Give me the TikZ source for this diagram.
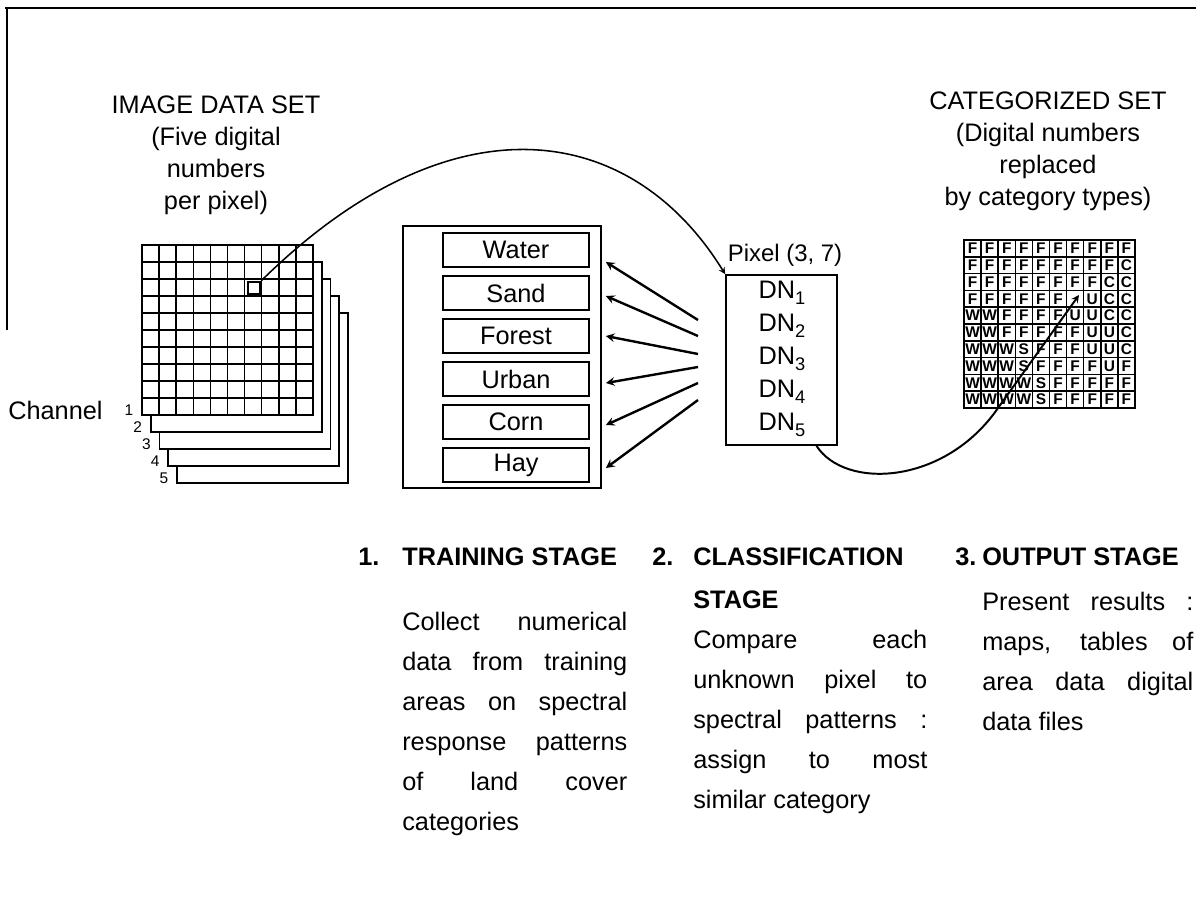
\documentclass[tikz,border=0pt]{standalone}
\usepackage{fontspec}
\setmainfont{Liberation Sans}
\usetikzlibrary{calc}
\newcommand{\dnsub}[1]{DN\raisebox{-0.45ex}{\fontsize{13}{13}\selectfont #1}}

\begin{document}
\begin{tikzpicture}[x=0.025cm, y=-0.025cm, >=stealth, node distance=1.075cm]
    \tikzstyle{heading} = [font=\fontsize{18}{22.8}\selectfont, align=center]
    \tikzstyle{classbox} = [draw, line width=1.2pt, minimum width=3.65cm, minimum height=0.85cm, inner sep=0pt, font=\fontsize{18}{22}\selectfont]
    \tikzstyle{stagehead} = [anchor=west, inner sep=0pt, font=\fontsize{18}{22}\selectfont\bfseries]
    \tikzstyle{stagetext} = [anchor=north west, inner sep=0pt, align=justify, font=\fontsize{18}{28.45}\selectfont]
    \tikzstyle{cellfont} = [inner sep=0pt, font=\fontsize{11}{11}\selectfont\bfseries]
    \tikzstyle{fan} = [->, line width=1.7pt]

    \useasboundingbox (0,0) rectangle (1196,907);

    % Frame
    \draw[line width=1.4pt] (5,8) -- (1196,8);
    \draw[line width=1pt] (7,8) -- (7,330);

    % Image data set (five channels)
    \foreach \k in {4,3,2,1}
        \draw[line width=1.2pt, fill=white] (142+8.7*\k,245+17*\k) rectangle +(171,170);
    \draw[line width=1.2pt, fill=white] (142,245) rectangle (313,415);
    \foreach \i in {1,...,9} {
        \draw[line width=1.1pt] (142+17.1*\i,245) -- (142+17.1*\i,415);
        \draw[line width=1.1pt] (142,245+17*\i) -- (313,245+17*\i);
    }
    \node[draw, line width=1.8pt, minimum size=0.3cm, inner sep=0pt] (cell) at (254,288) {};
    \foreach \n in {1,...,5}
        \node[font=\fontsize{11}{11}\selectfont] at (129+8.7*\n-8.7,393+17*\n) {\n};
    \node[heading] (imgtitle) at (216,155) {IMAGE DATA SET\\(Five digital\\numbers\\per pixel)};
    \node[heading, anchor=west, inner sep=0pt] (channel) at (8,410) {Channel};

    % Training stage
    \node[draw, line width=1.2pt, minimum width=4.95cm, minimum height=6.55cm] (train) at (502,357) {};
    \node[classbox] (water) at (516,250) {Water};
    \node[classbox] (sand) [below of=water] {Sand};
    \node[classbox] (forest) [below of=sand] {Forest};
    \node[classbox] (urban) [below of=forest] {Urban};
    \node[classbox] (corn) [below of=urban] {Corn};
    \node[classbox] (hay) [below of=corn] {Hay};

    % Pixel (3, 7)
    \node[draw, line width=1.2pt, minimum width=2.775cm, minimum height=4.25cm] (pix) at (781.5,360) {};
    \node[font=\fontsize{17}{20}\selectfont] (pixlabel) at (785,255) {Pixel (3, 7)};
    \node[heading] (dn1) at (782,293) {\dnsub{1}};
    \node[heading, node distance=0.825cm] (dn2) [below of=dn1] {\dnsub{2}};
    \node[heading, node distance=0.825cm] (dn3) [below of=dn2] {\dnsub{3}};
    \node[heading, node distance=0.825cm] (dn4) [below of=dn3] {\dnsub{4}};
    \node[heading, node distance=0.825cm] (dn5) [below of=dn4] {\dnsub{5}};

    % Categorized set
    \node[heading] (cattitle) at (1048,151) {CATEGORIZED SET\\(Digital numbers\\replaced\\by category types)};
    \draw[line width=1.4pt] (964,240) rectangle (1135,408);
    \foreach \i in {1,...,9} {
        \draw[line width=1.1pt] (964+17.1*\i,240) -- (964+17.1*\i,408);
        \draw[line width=1.1pt] (964,240+16.8*\i) -- (1135,240+16.8*\i);
    }
    \foreach \row/\cells in {1/{F,F,F,F,F,F,F,F,F,F}, 2/{F,F,F,F,F,F,F,F,F,C},
                             3/{F,F,F,F,F,F,F,F,C,C}, 4/{F,F,F,F,F,F,{},U,C,C},
                             5/{W,W,F,F,F,F,U,U,C,C}, 6/{W,W,F,F,F,F,F,U,U,C},
                             7/{W,W,W,S,F,F,F,U,U,C}, 8/{W,W,W,S,F,F,F,F,U,F},
                             9/{W,W,W,W,S,F,F,F,F,F}, 10/{W,W,W,W,S,F,F,F,F,F}}
        \foreach \c [count=\col] in \cells
            \node[cellfont] at (955.45+17.1*\col,231.6+16.8*\row) {\c};
    \coordinate (mark) at (1079,295);

    % Edges
    \draw[->, line width=1.1pt] (cell.north east) .. controls (450,95) and (630,120) .. (pix.north west);
    \foreach \cls/\y/\dy in {water/320/12, sand/336/3, forest/354/0, urban/367/4, corn/383/3, hay/400/3} {
        \coordinate (t\cls) at (698,\y);
        \draw[fan] (t\cls) -- ($(\cls.east -| train.east)+(4,\dy)$);
    }
    \draw[->, line width=1.4pt] ($(pix.south)+(35,0)$) .. controls (845,490) and (945,485) .. (998,408) -- (mark);

    % Stages
    \node[stagehead] (n1) at (358,557) {1.};
    \node[stagehead] (s1) at (402,557) {TRAINING STAGE};
    \node[stagetext, text width=5.625cm] (b1) at (402,612) {Collect numerical\linebreak data from training\linebreak areas on spectral\linebreak response patterns\linebreak of land cover\linebreak categories};

    \node[stagehead] (n2) at (652,557) {2.};
    \node[stagehead] (s2) at (693,557) {CLASSIFICATION};
    \node[stagehead] (s2b) at (693,600) {STAGE};
    \node[stagetext, text width=5.85cm] (b2) at (693,630) {Compare each\linebreak unknown pixel to\linebreak spectral patterns :\linebreak assign to most\linebreak similar category};

    \node[stagehead] (n3) at (955,557) {3.};
    \node[stagehead] (s3) at (982,557) {OUTPUT STAGE};
    \node[stagetext, text width=5.275cm] (b3) at (982,592) {Present results :\linebreak maps, tables of\linebreak area data digital\linebreak data files};

\end{tikzpicture}
\end{document}
